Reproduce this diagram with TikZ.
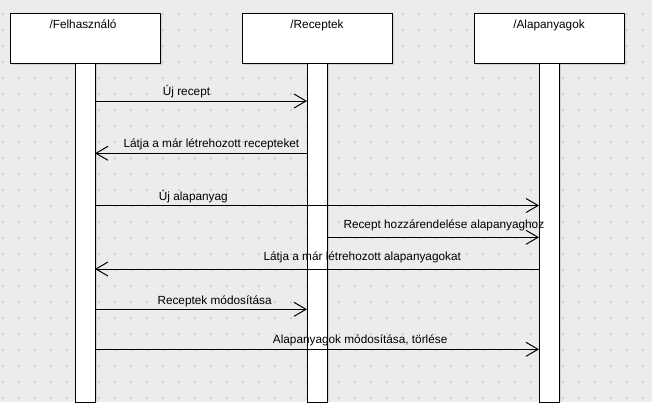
\documentclass[tikz,border=0pt]{standalone}
\usepackage{fontspec}
\setmainfont{Liberation Sans}
\usetikzlibrary{arrows.meta}
\definecolor{bg}{RGB}{236,236,236}
\definecolor{dotc}{RGB}{208,208,208}
\definecolor{shad}{RGB}{210,210,210}
\begin{document}
\begin{tikzpicture}[x=1pt,y=-1pt,
  lifebox/.style={draw=black,line width=1pt,fill=white,minimum width=150pt,minimum height=50pt,inner sep=0pt,outer sep=0pt},
  bar/.style={fill=white,minimum width=20pt,minimum height=339pt,inner sep=0pt,outer sep=0pt},
  ttl/.style={anchor=base,inner sep=0pt,font=\fontsize{11.8}{14}\selectfont},
  lbl/.style={anchor=base west,inner sep=0pt,font=\fontsize{11.8}{14}\selectfont},
  msg/.style={line width=1pt,-{Straight Barb[length=12pt,width=14pt]}},
  baredge/.style={draw=black,line width=1pt}
]
\useasboundingbox (0,0) rectangle (652,402);
\fill[bg] (0,0) rectangle (652,402);
% grid dots
\foreach \i in {0,...,40}{
  \foreach \j in {0,...,24}{
    \fill[dotc] (2.25+16*\i,13.25+16*\j) rectangle ++(1.5,1.5);
  }
}
% shadows
\foreach \cx in {85,317,549}{
  \fill[shad] (\cx-73,15) rectangle (\cx+77,65);
  \fill[shad] (\cx+10,63) rectangle (\cx+12,402);
}
% lifeline heads
\node[lifebox] (b1) at (85,38) {};
\node[lifebox] (b2) at (317,38) {};
\node[lifebox] (b3) at (549,38) {};
\node[ttl] (t1) at (83,28) {/Felhasználó};
\node[ttl] (t2) at (317,28) {/Receptek};
\node[ttl] (t3) at (549,28) {/Alapanyagok};
% activation bars
\node[bar] (bar1) at (85,232.5) {};
\node[bar] (bar2) at (317,232.5) {};
\node[bar] (bar3) at (549,232.5) {};
% labels
\node[lbl] (l1) at (162.7,95) {Új recept};
\node[lbl] (l2) at (123.3,147.3) {Látja a már létrehozott recepteket};
\node[lbl] (l3) at (158.7,200) {Új alapanyag};
\node[lbl] (l4) at (343.3,228.3) {Recept hozzárendelése alapanyaghoz};
\node[lbl] (l5) at (263.3,260) {Látja a már létrehozott alapanyagokat};
\node[lbl] (l6) at (157.3,304.3) {Receptek módosítása};
\node[lbl] (l7) at (272.7,343.3) {Alapanyagok módosítása, törlése};
% bar outlines
\draw[baredge] (bar1.north west) rectangle (bar1.south east);
\draw[baredge] (bar2.north west) rectangle (bar2.south east);
\draw[baredge] (bar3.north west) rectangle (bar3.south east);
% messages
\draw[msg] (bar1.east |- 0,101) -- (bar2.west |- 0,101);
\draw[msg] (bar2.west |- 0,153.3) -- (bar1.east |- 0,153.3);
\draw[msg] (bar1.east |- 0,205.5) -- (bar3.west |- 0,205.5);
\draw[msg] (bar2.east |- 0,237.3) -- (bar3.west |- 0,237.3);
\draw[msg] (bar3.west |- 0,269) -- (bar1.east |- 0,269);
\draw[msg] (bar1.east |- 0,309.3) -- (bar2.west |- 0,309.3);
\draw[msg] (bar1.east |- 0,349.3) -- (bar3.west |- 0,349.3);
\end{tikzpicture}
\end{document}
